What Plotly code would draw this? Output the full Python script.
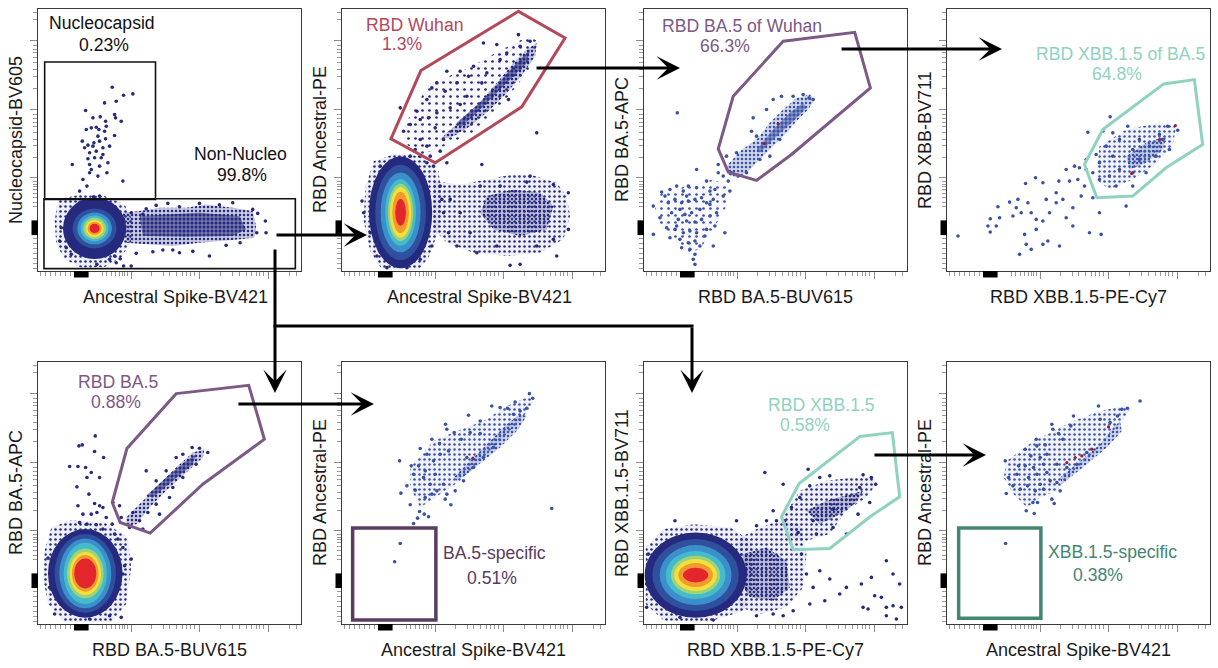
import plotly.graph_objects as go

# ============================ DATA ============================
# Display-channel scale (biexponential-like): zero at 130, decades every 205 units
X_RANGE = [0, 790]
Y_RANGE = [0, 787]
ZERO_POS = 130
DECADE_TICKS = [281, 486, 691]
MINOR_TICKS = [8, 23, 38, 53, 68, 83, 98,
               194, 206, 221, 234, 244, 254, 261, 269,
               341, 376, 396, 416, 434, 446, 458, 471,
               549, 585, 606, 626, 641, 656, 666, 676,
               756, 776]

X_TITLES = ["Ancestral Spike-BV421", "Ancestral Spike-BV421", "RBD BA.5-BUV615",
            "RBD XBB.1.5-PE-Cy7", "RBD BA.5-BUV615", "Ancestral Spike-BV421",
            "RBD XBB.1.5-PE-Cy7", "Ancestral Spike-BV421"]
Y_TITLES = ["Nucleocapsid-BV605", "RBD Ancestral-PE", "RBD BA.5-APC", "RBD XBB-BV711",
            "RBD BA.5-APC", "RBD Ancestral-PE", "RBD XBB.1.5-BV711", "RBD Ancestral-PE"]

GATE_NAMES = ["Nucleocapsid", "Non-Nucleo", "RBD Wuhan", "RBD BA.5 of Wuhan",
              "RBD XBB.1.5 of BA.5", "RBD BA.5", "BA.5-specific", "RBD XBB.1.5",
              "XBB.1.5-specific"]
GATE_PCTS = ["0.23%", "99.8%", "1.3%", "66.3%", "64.8%", "0.88%", "0.51%", "0.58%", "0.38%"]

# ---- gates (display units) ----
P1_NUCLEO_BOX = [20, 215, 353, 628]        # x0, y0, x1, y1
P1_NONNUC_BOX = [18, 7, 773, 217]
P2_GATE = [(530, 780), (670, 700), (540, 493), (280, 325), (147, 397), (237, 602)]
P3_GATE = [(418, 690), (633, 717), (680, 550), (443, 350), (338, 272), (253, 297), (223, 367), (268, 525)]
P4_GATE = [(651, 562), (743, 575), (768, 380), (658, 310), (558, 225), (450, 220), (413, 320), (468, 425)]
P5_GATE = [(415, 692), (633, 717), (680, 555), (495, 420), (337, 273), (247, 305), (223, 365), (267, 527)]
P6_BOX = [32, 12, 282, 288]
P7_GATE = [(648, 563), (746, 575), (768, 382), (683, 325), (558, 227), (448, 223), (413, 322), (466, 422)]
P8_BOX = [35, 17, 282, 288]

# ---- dense pseudocolour populations: centre, x-radii and y-radii per density level ----
P1_BLOB = (170, 128, [95, 66, 52, 42, 34, 27, 21, 15], [92, 60, 48, 39, 32, 26, 20, 14])
P2_BLOB = (176, 176, [95, 76, 60, 46, 38, 32, 25, 16], [168, 143, 120, 100, 86, 76, 62, 40])
P5_BLOB = (142, 152, [112, 92, 78, 65, 55, 47, 40, 33], [133, 118, 105, 92, 75, 65, 55, 45])
P7_BLOB = (155, 147, [153, 130, 108, 90, 74, 64, 52, 38], [128, 108, 90, 72, 58, 48, 36, 22])
P1_BLOB_HALO = [(60, 215), (120, 228), (200, 225), (260, 200), (285, 150), (280, 90), (250, 40),
                (200, 12), (130, 10), (80, 35), (55, 80), (50, 150)]
P2_BLOB_HALO = [(70, 250), (95, 330), (160, 352), (240, 345), (290, 300), (300, 220), (290, 120),
                (260, 40), (230, 4), (120, 4), (85, 60), (65, 150)]
P5_BLOB_HALO = [(20, 220), (40, 290), (100, 312), (200, 305), (270, 260), (280, 170), (265, 60),
                (220, 6), (80, 6), (30, 60), (15, 140)]
P7_BLOB_HALO = [(5, 230), (60, 285), (150, 300), (260, 290), (320, 250), (330, 150), (300, 40),
                (200, 8), (60, 10), (5, 60)]

# ---- outlines of dotted density regions ----
P1_TAIL_OUTER = [(255, 175), (305, 180), (365, 190), (445, 190), (505, 200), (585, 190), (645, 180),
                 (655, 135), (650, 100), (585, 93), (485, 85), (405, 75), (325, 80), (265, 85)]
P1_TAIL_CORE = [(305, 165), (485, 175), (605, 165), (625, 125), (585, 105), (445, 103), (315, 105)]
P2_GATE_HALO = [(190, 440), (260, 560), (380, 610), (470, 660), (560, 705), (590, 690), (560, 600),
                (480, 500), (400, 420), (320, 380), (240, 350), (185, 385)]
P2_BAND_OUTER = [(315, 415), (395, 485), (465, 565), (515, 625), (555, 665), (585, 685), (580, 645),
                 (545, 595), (495, 535), (445, 485), (385, 435), (335, 405), (295, 395)]
P2_BAND_CORE = [(345, 445), (435, 525), (515, 615), (565, 665), (555, 625), (475, 545), (405, 475), (355, 430)]
P2_RIGHT_OUTER = [(275, 270), (355, 260), (435, 275), (515, 290), (575, 287), (645, 265), (675, 225),
                  (685, 165), (665, 95), (595, 55), (495, 45), (395, 55), (315, 85), (275, 125)]
P2_RIGHT_CORE = [(435, 225), (515, 245), (595, 235), (635, 195), (615, 125), (535, 105), (455, 125), (415, 175)]
P3_BAND_OUTER = [(248, 315), (288, 360), (338, 395), (378, 445), (418, 485), (458, 520), (498, 530),
                 (513, 515), (493, 485), (458, 450), (428, 415), (388, 375), (348, 335), (308, 295),
                 (278, 280), (253, 290)]
P3_BAND_CORE = [(338, 365), (388, 425), (438, 475), (478, 505), (488, 490), (448, 450), (398, 405), (348, 355)]
P3_LOW_OUTER = [(48, 230), (128, 255), (208, 275), (258, 255), (248, 195), (208, 125), (168, 65),
                (128, 55), (88, 95), (48, 135), (33, 185)]
P4_OUTER = [(458, 375), (538, 425), (638, 445), (688, 435), (678, 375), (618, 315), (558, 275),
            (488, 245), (448, 275)]
P4_CORE = [(538, 345), (598, 385), (658, 405), (648, 365), (598, 325), (548, 305)]
P5_BAND_OUTER = [(265, 320), (315, 370), (365, 420), (415, 470), (465, 515), (500, 525), (495, 500),
                 (445, 455), (385, 400), (335, 350), (295, 300), (265, 295)]
P5_BAND_CORE = [(325, 385), (385, 440), (445, 490), (475, 510), (465, 480), (405, 430), (345, 380)]
P6_OUTER = [(205, 470), (275, 550), (345, 580), (425, 610), (495, 655), (565, 685), (575, 665),
            (535, 610), (475, 550), (415, 490), (355, 430), (295, 390), (235, 350), (205, 410)]
P6_CORE = [(335, 440), (375, 480), (435, 540), (495, 600), (535, 630), (555, 625), (525, 580),
           (475, 530), (425, 490), (375, 450), (345, 430)]
P7_RIGHT_OUTER = [(288, 260), (348, 290), (408, 310), (468, 300), (488, 210), (478, 110), (428, 50),
                  (348, 30), (288, 50), (268, 130)]
P7_RIGHT_CORE = [(298, 210), (368, 230), (428, 190), (438, 110), (388, 70), (318, 80), (288, 130)]
P7_GATE_OUTER = [(418, 320), (468, 400), (548, 430), (628, 440), (688, 440), (698, 420), (668, 380),
                 (608, 340), (558, 270), (488, 250), (438, 260)]
P7_GATE_CORE = [(488, 340), (548, 370), (618, 390), (658, 400), (638, 365), (588, 330), (528, 300)]
P8_OUTER = [(180, 490), (260, 550), (320, 580), (380, 610), (460, 640), (530, 655), (550, 640),
            (500, 580), (440, 510), (380, 460), (330, 400), (280, 380), (240, 350), (200, 390), (170, 440)]
P8_CORE = [(340, 440), (400, 490), (460, 540), (500, 590), (520, 610), (525, 580), (480, 530),
           (420, 480), (370, 440), (345, 420)]

# ---- individual events (display units) ----
P1_DOTS = [(223, 552), (257, 528), (285, 532), (235, 510), (200, 505), (143, 482), (230, 470), (233, 460),
           (165, 460), (187, 463), (203, 450), (250, 450), (145, 425), (183, 425), (160, 430), (175, 432),
           (200, 420), (230, 407), (133, 390), (150, 378), (168, 385), (185, 390), (203, 397), (155, 355),
           (175, 360), (195, 370), (170, 340), (150, 337), (190, 340), (210, 325), (103, 320), (155, 320),
           (185, 315), (207, 295), (255, 270), (125, 240), (147, 255), (160, 305), (180, 285), (135, 275),
           (167, 223), (185, 225), (155, 295), (195, 350), (165, 375), (215, 375), (180, 405), (140, 370),
           (205, 435), (140, 210), (175, 215), (200, 207), (125, 205), (155, 203),
           (70, 130), (65, 90), (85, 70), (100, 50), (185, 45), (215, 35), (235, 25), (257, 15), (177, 20),
           (280, 15), (195, 55), (230, 45), (247, 37), (325, 187), (355, 197), (390, 203), (425, 193),
           (485, 203), (545, 199), (585, 205), (645, 185), (660, 173), (683, 150), (685, 115), (657, 115),
           (425, 55), (515, 45), (465, 59), (375, 63), (345, 58), (565, 77), (607, 85), (295, 53), (405, 63),
           (280, 175), (315, 170)]
P2_DOTS = [(315, 600), (425, 685), (465, 680), (530, 710), (500, 515), (585, 415), (175, 490), (225, 480),
           (255, 515), (270, 550), (285, 565), (310, 540), (345, 565), (380, 585), (395, 615), (355, 600),
           (205, 440), (185, 420), (235, 455), (260, 460), (285, 475), (325, 490), (280, 430), (305, 395),
           (235, 395), (255, 375), (220, 365), (205, 345), (265, 345), (295, 360), (355, 500), (375, 525),
           (420, 565), (435, 595), (475, 635), (495, 655), (535, 675), (565, 690), (420, 320), (315, 325),
           (255, 325),
           (295, 255), (325, 215), (355, 175), (385, 115), (405, 55), (345, 75), (505, 17), (535, 20),
           (645, 45), (680, 125), (680, 235), (635, 260), (565, 285), (555, 267), (475, 255), (415, 255),
           (635, 95), (585, 75), (465, 75), (320, 115), (305, 175), (300, 215),
           (60, 210), (65, 175), (85, 115), (105, 45), (135, 10), (195, 10), (235, 35), (270, 75),
           (275, 315), (235, 345), (115, 315), (145, 330)]
P3_DOTS = [(223, 320), (248, 345), (278, 355), (263, 295), (283, 285), (308, 295), (328, 460), (368, 485),
           (388, 515), (413, 525), (448, 525), (478, 530), (496, 520), (508, 515), (100, 475), (338, 405),
           (348, 335), (378, 345), (408, 395), (323, 420),
           (53, 237), (63, 225), (28, 195), (48, 160), (28, 110), (78, 245), (118, 240), (133, 255),
           (158, 250), (188, 270), (213, 245), (223, 295), (238, 285), (253, 270), (258, 240), (158, 305),
           (198, 240), (73, 205), (93, 215), (113, 205), (133, 210), (153, 215), (173, 220), (83, 175),
           (108, 185), (123, 170), (143, 175), (168, 185), (188, 205), (208, 215), (103, 155), (128, 150),
           (153, 147), (173, 155), (198, 165), (218, 175), (68, 130), (93, 125), (118, 115), (138, 120),
           (158, 115), (188, 125), (213, 135), (243, 115), (78, 100), (108, 95), (133, 85), (153, 90),
           (168, 75), (113, 70), (138, 65), (153, 50), (148, 35), (153, 20), (208, 75), (98, 135),
           (183, 105), (198, 200), (128, 225), (238, 225), (98, 255)]
P4_DOTS = [(490, 463), (543, 435), (638, 410), (663, 435), (693, 423), (468, 420), (498, 415), (518, 395),
           (478, 375), (448, 350), (423, 417), (418, 335), (458, 325), (498, 345), (558, 365), (578, 395),
           (608, 375), (628, 345), (668, 365), (648, 395), (578, 335), (558, 295), (598, 295), (518, 305),
           (488, 285), (458, 275), (508, 255), (558, 255), (438, 220), (413, 255), (538, 195), (398, 310),
           (393, 275), (368, 270), (358, 305), (336, 270), (328, 235), (288, 265), (266, 280), (236, 263),
           (298, 215), (328, 205), (308, 175), (288, 150), (268, 155), (253, 175), (243, 205), (213, 215),
           (188, 207), (208, 190), (223, 175), (198, 165), (158, 160), (153, 193), (130, 157), (123, 135),
           (148, 135), (130, 117), (33, 105), (233, 110), (238, 80), (253, 65), (218, 50), (288, 80),
           (303, 90), (338, 75), (268, 125), (358, 160), (378, 190), (403, 225), (428, 115), (463, 110),
           (458, 175), (378, 135), (348, 215), (383, 315), (418, 305), (438, 295)]
P5_DOTS = [(225, 365), (245, 355), (250, 320), (285, 335), (275, 290), (305, 310), (330, 335), (355, 360),
           (325, 460), (355, 430), (385, 460), (415, 500), (435, 510), (463, 530), (485, 528), (510, 515),
           (405, 410), (435, 440), (475, 480), (395, 380), (365, 330), (315, 285),
           (172, 565), (123, 535), (133, 538), (170, 518), (197, 500), (95, 473), (120, 473), (143, 470),
           (160, 455), (147, 440), (185, 440), (117, 412), (153, 390), (170, 362), (185, 355), (120, 355),
           (135, 330), (160, 330), (177, 335), (195, 350), (205, 320), (223, 300), (125, 305), (147, 300),
           (175, 298), (195, 285), (230, 270), (240, 255), (255, 230), (280, 195), (260, 175), (255, 150),
           (250, 20), (30, 198), (40, 150), (35, 110), (50, 30), (155, 15), (215, 25)]
P6_DOTS = [(563, 692), (573, 678), (520, 667), (475, 650), (450, 655), (380, 627), (415, 610), (497, 648),
           (515, 630), (535, 640), (555, 648), (311, 600), (315, 585), (337, 575), (358, 555), (385, 575),
           (415, 572), (235, 527), (270, 555), (293, 542), (255, 510), (275, 490), (295, 510), (320, 520),
           (173, 490), (208, 475), (230, 475), (250, 460), (215, 450), (195, 415), (177, 393), (220, 402),
           (245, 440), (265, 420), (280, 450), (305, 420), (285, 400), (310, 375), (327, 358), (315, 390),
           (340, 400), (365, 430), (233, 338), (247, 330), (260, 322), (215, 302), (227, 318), (270, 390),
           (375, 500), (395, 470), (425, 500), (455, 530), (630, 347), (175, 242), (158, 187), (205, 358),
           (250, 380)]
P7_DOTS = [(363, 455), (418, 420), (493, 465), (498, 415), (528, 440), (558, 445), (658, 448), (683, 440),
           (696, 420), (678, 365), (648, 410), (468, 380), (443, 350), (388, 340), (398, 310), (423, 310),
           (368, 310), (338, 295), (278, 310), (93, 310), (463, 275), (518, 270), (568, 290), (608, 270),
           (643, 330), (568, 345), (508, 310), (473, 210), (488, 150), (528, 160), (558, 135), (608, 110),
           (653, 120), (683, 140), (728, 190), (748, 150), (768, 120), (693, 85), (713, 80), (658, 50),
           (673, 45), (728, 50), (748, 55), (773, 50), (758, 15), (728, 25), (588, 90), (543, 70),
           (508, 110), (498, 60), (448, 40), (418, 25), (388, 30), (338, 25), (108, 20), (208, 12),
           (8, 120), (13, 210), (8, 50)]
P8_DOTS = [(580, 670), (542, 648), (525, 645), (455, 655), (380, 625), (372, 595), (460, 615), (490, 605),
           (512, 625), (315, 600), (318, 585), (335, 572), (348, 555), (268, 555), (270, 535), (295, 538),
           (235, 525), (252, 505), (280, 500), (300, 510), (215, 475), (235, 475), (260, 470), (290, 480),
           (175, 490), (210, 450), (185, 440), (245, 440), (270, 450), (300, 455), (330, 480), (198, 415),
           (178, 392), (220, 405), (242, 415), (265, 400), (280, 420), (310, 430), (330, 425), (290, 405),
           (315, 375), (322, 362), (340, 400), (258, 365), (272, 365), (238, 340), (262, 332), (360, 470),
           (390, 480), (420, 515), (176, 242)]
P3_RED = [(403, 442), (361, 383)]
P4_RED = [(686, 437), (638, 395), (555, 293)]
P6_RED = [(393, 498)]
P8_RED = [(435, 525), (405, 505), (385, 500), (360, 485), (485, 592)]

# ============================ STYLE / LAYOUT ============================
W, H = 1218, 668
FONT = "Liberation Sans, Arial, Helvetica, sans-serif"
PANEL_LEFT = [38, 342, 644, 947, 38, 342, 644, 947]
PANEL_TOP = [9, 9, 9, 9, 362, 362, 362, 362]
PANEL_W, PANEL_H = 263, 262
NAVY = (38, 42, 126)
MIDBLUE = (58, 82, 166)
DOTRED = "#a3182a"
HEAT = ["#262a7e", "#2f4f9f", "#3b8fcb", "#44bccb", "#9fd37a", "#f2e03c", "#f39a2f", "#e2262b"]
C_BLACK = "#111111"
C_WUHAN = "#b4485b"
C_BA5 = "#7d5986"
C_XBB = "#8fd2c0"
C_BA5S = "#5a3c62"
C_XBBS = "#448673"
# density level -> (pattern tile px, pattern solidity, background alpha)
DENSITY_STYLE = {"halo": (7, 0.12, 0.03), "sparse": (5, 0.2, 0.08),
                 "medium": (4, 0.3, 0.25), "dense": (4, 0.45, 0.5)}


def rgb(c, a=1.0):
    return f"rgba({c[0]},{c[1]},{c[2]},{a})"


def px(x):
    return x / W


def py(y):
    return 1 - y / H


def ax_ids(i):
    s = "" if i == 0 else str(i + 1)
    return "x" + s, "y" + s, "xaxis" + s, "yaxis" + s


fig = go.Figure()
shapes = []
annotations = []
layout_axes = {}

for i in range(8):
    xa, ya, xk, yk = ax_ids(i)
    L, T = PANEL_LEFT[i], PANEL_TOP[i]
    common = dict(showgrid=False, zeroline=False, showline=True, mirror=True,
                  linecolor="#3a3a3a", linewidth=1, ticks="outside", tickmode="array",
                  tickvals=DECADE_TICKS, showticklabels=False, ticklen=7, tickwidth=1,
                  tickcolor="#8c8c8c", fixedrange=True,
                  minor=dict(tickmode="array", tickvals=MINOR_TICKS, ticks="outside",
                             ticklen=4, tickwidth=1, tickcolor="#9a9a9a"))
    xd = dict(common, domain=[px(L), px(L + PANEL_W)], range=X_RANGE, anchor=ya)
    yd = dict(common, domain=[py(T + PANEL_H), py(T)], range=Y_RANGE, anchor=xa)
    layout_axes[xk] = xd
    layout_axes[yk] = yd
    # zero markers (thick black bars on both axes)
    shapes.append(dict(type="rect", xref=xa, yref=ya + " domain", x0=ZERO_POS - 22, x1=ZERO_POS + 22,
                       y0=-6.5 / PANEL_H, y1=0, fillcolor="black", line=dict(width=0), layer="above"))
    shapes.append(dict(type="rect", xref=xa + " domain", yref=ya, x0=-6.5 / PANEL_W, x1=0,
                       y0=ZERO_POS - 22, y1=ZERO_POS + 22, fillcolor="black", line=dict(width=0),
                       layer="above"))
    # axis titles
    annotations.append(dict(text=X_TITLES[i], xref="paper", yref="paper",
                            x=px(L + PANEL_W / 2 + (6 if i in (0, 1) else 0)), y=py(T + PANEL_H + 26),
                            showarrow=False, xanchor="center", yanchor="middle",
                            font=dict(family=FONT, size=18, color="#1a1a1a")))
    annotations.append(dict(text=Y_TITLES[i], xref="paper", yref="paper", x=px(L - 22),
                            y=py(T + PANEL_H / 2), textangle=-90, showarrow=False,
                            xanchor="center", yanchor="middle",
                            font=dict(family=FONT, size=18, color="#1a1a1a")))


def add_density(i, pts, color, level):
    xa, ya, _, _ = ax_ids(i)
    size, sol, alpha = DENSITY_STYLE[level]
    xs = [p[0] for p in pts] + [pts[0][0]]
    ys = [p[1] for p in pts] + [pts[0][1]]
    fig.add_trace(go.Scatter(x=xs, y=ys, xaxis=xa, yaxis=ya, mode="lines",
                             line=dict(width=0, color=rgb(color, 0)),
                             fill="toself", fillcolor=rgb(color, alpha),
                             fillpattern=dict(shape=".", fgcolor=rgb(color), bgcolor=rgb(color, alpha),
                                              size=size, solidity=sol, fillmode="replace"),
                             hoverinfo="skip", showlegend=False))


def add_dots(i, pts, color, size=3.6):
    xa, ya, _, _ = ax_ids(i)
    fig.add_trace(go.Scatter(x=[p[0] for p in pts], y=[p[1] for p in pts], xaxis=xa, yaxis=ya,
                             mode="markers", marker=dict(size=size, color=color, line=dict(width=0)),
                             hoverinfo="skip", showlegend=False))


def add_blob(i, blob):
    xa, ya, _, _ = ax_ids(i)
    cx, cy, rxs, rys = blob
    for k, (rx, ry) in enumerate(zip(rxs, rys)):
        shapes.append(dict(type="circle", xref=xa, yref=ya, x0=cx - rx, x1=cx + rx, y0=cy - ry, y1=cy + ry,
                           fillcolor=HEAT[k], line=dict(width=0), layer="above"))


def add_poly_gate(i, pts, color, width=3):
    xa, ya, _, _ = ax_ids(i)
    path = "M " + " L ".join(f"{x},{y}" for x, y in pts) + " Z"
    shapes.append(dict(type="path", xref=xa, yref=ya, path=path, line=dict(color=color, width=width),
                       fillcolor="rgba(0,0,0,0)", layer="above"))


def add_box_gate(i, box, color, width):
    xa, ya, _, _ = ax_ids(i)
    shapes.append(dict(type="rect", xref=xa, yref=ya, x0=box[0], y0=box[1], x1=box[2], y1=box[3],
                       line=dict(color=color, width=width), fillcolor="rgba(0,0,0,0)", layer="above"))


navy_hex = rgb(NAVY)
mid_hex = rgb(MIDBLUE)
# panel 1
add_density(0, P1_BLOB_HALO, NAVY, "sparse")
add_density(0, P1_TAIL_OUTER, NAVY, "medium")
add_density(0, P1_TAIL_CORE, NAVY, "dense")
add_dots(0, P1_DOTS, navy_hex)
add_blob(0, P1_BLOB)
add_box_gate(0, P1_NUCLEO_BOX, C_BLACK, 1.6)
add_box_gate(0, P1_NONNUC_BOX, C_BLACK, 1.6)
# panel 2
add_density(1, P2_BLOB_HALO, NAVY, "sparse")
add_density(1, P2_GATE_HALO, NAVY, "halo")
add_density(1, P2_BAND_OUTER, NAVY, "medium")
add_density(1, P2_BAND_CORE, NAVY, "dense")
add_density(1, P2_RIGHT_OUTER, NAVY, "sparse")
add_density(1, P2_RIGHT_CORE, NAVY, "medium")
add_dots(1, P2_DOTS, navy_hex)
add_blob(1, P2_BLOB)
add_poly_gate(1, P2_GATE, C_WUHAN)
# panel 3
add_density(2, P3_LOW_OUTER, MIDBLUE, "halo")
add_density(2, P3_BAND_OUTER, MIDBLUE, "medium")
add_density(2, P3_BAND_CORE, MIDBLUE, "dense")
add_dots(2, P3_DOTS, mid_hex)
add_dots(2, P3_RED, DOTRED, 3.2)
add_poly_gate(2, P3_GATE, C_BA5)
# panel 4
add_density(3, P4_OUTER, MIDBLUE, "sparse")
add_density(3, P4_CORE, MIDBLUE, "medium")
add_dots(3, P4_DOTS, mid_hex)
add_dots(3, P4_RED, DOTRED, 3.2)
add_poly_gate(3, P4_GATE, C_XBB)
# panel 5
add_density(4, P5_BLOB_HALO, NAVY, "sparse")
add_density(4, P5_BAND_OUTER, NAVY, "medium")
add_density(4, P5_BAND_CORE, NAVY, "dense")
add_dots(4, P5_DOTS, navy_hex)
add_blob(4, P5_BLOB)
add_poly_gate(4, P5_GATE, C_BA5)
# panel 6
add_density(5, P6_OUTER, MIDBLUE, "sparse")
add_density(5, P6_CORE, MIDBLUE, "medium")
add_dots(5, P6_DOTS, mid_hex)
add_dots(5, P6_RED, DOTRED, 3.2)
add_box_gate(5, P6_BOX, C_BA5S, 3.5)
# panel 7
add_density(6, P7_BLOB_HALO, NAVY, "sparse")
add_density(6, P7_RIGHT_OUTER, NAVY, "sparse")
add_density(6, P7_RIGHT_CORE, NAVY, "medium")
add_density(6, P7_GATE_OUTER, NAVY, "sparse")
add_density(6, P7_GATE_CORE, NAVY, "medium")
add_dots(6, P7_DOTS, navy_hex)
add_blob(6, P7_BLOB)
add_poly_gate(6, P7_GATE, C_XBB)
# panel 8
add_density(7, P8_OUTER, MIDBLUE, "sparse")
add_density(7, P8_CORE, MIDBLUE, "medium")
add_dots(7, P8_DOTS, mid_hex)
add_dots(7, P8_RED, DOTRED, 3.2)
add_box_gate(7, P8_BOX, C_XBBS, 3.5)

# gate labels: name position, percentage position, colour
LABEL_POS = [((102, 23.5), (104, 45), C_BLACK), ((240, 154), (242, 175), C_BLACK),
             ((415, 25), (402, 44), C_WUHAN), ((742, 26), (725, 46), C_BA5),
             ((1120, 54), (1117, 74), C_XBB), ((118, 382), (116, 402), C_BA5),
             ((494, 553), (492, 578), C_BA5S), ((821, 405), (805, 425), C_XBB),
             ((1112, 552), (1098, 575), C_XBBS)]
for name, pct, (p1, p2, col) in zip(GATE_NAMES, GATE_PCTS, LABEL_POS):
    for txt, (x, y) in ((name, p1), (pct, p2)):
        annotations.append(dict(text=txt, xref="paper", yref="paper", x=px(x), y=py(y), showarrow=False,
                                xanchor="center", yanchor="middle",
                                font=dict(family=FONT, size=17.6, color=col)))

# arrows (pixel geometry): tail -> tip
ARROWS = [((275, 235), (367, 235)), ((535, 68), (680, 68)), ((840, 49), (1002, 49)),
          ((237, 404), (374, 404)), ((873, 455), (986, 455)),
          ((275, 248), (275, 393)), ((692, 326), (692, 393))]
for (tx, ty), (hx, hy) in ARROWS:
    annotations.append(dict(text="", xref="paper", yref="paper", x=px(hx), y=py(hy),
                            ax=tx - hx, ay=ty - hy, showarrow=True, arrowhead=3, arrowsize=1.3,
                            arrowwidth=3, arrowcolor="black", standoff=0, startstandoff=0))
shapes.append(dict(type="line", xref="paper", yref="paper", x0=px(275 - 1.5), x1=px(692 + 1.5),
                   y0=py(326), y1=py(326), line=dict(color="black", width=3)))

fig.update_layout(width=W, height=H, margin=dict(l=0, r=0, t=0, b=0), autosize=False,
                  paper_bgcolor="white", plot_bgcolor="white", showlegend=False,
                  shapes=shapes, annotations=annotations, **layout_axes)

fig.write_html("out.html", config={"displayModeBar": False, "staticPlot": True},
               post_script="document.body.style.margin='0';")
